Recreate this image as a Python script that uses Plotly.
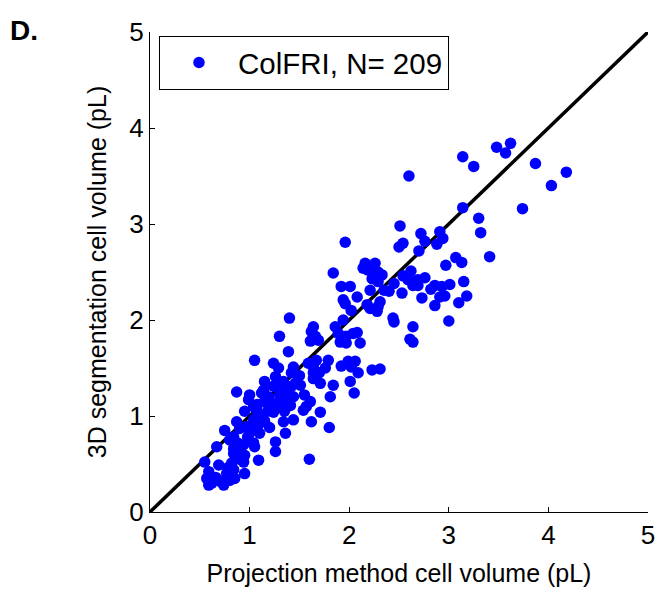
import plotly.graph_objects as go

# Projection method cell volume (pL)
proj = [3.48, 3.62, 3.57, 3.25, 3.87, 4.18, 4.03, 3.74, 3.30, 3.32, 3.41, 2.60, 3.14, 3.14,
        2.51, 2.50, 2.54, 2.72, 2.70, 2.76, 2.91, 2.94, 2.88, 3.07, 3.13, 2.97, 2.62, 2.76,
        2.54, 2.45, 2.64, 2.69, 2.53, 2.82, 2.93, 3.01, 3.15, 2.73, 2.91, 3.18, 3.10, 2.86,
        2.44, 2.45, 3.00, 2.64, 2.61, 2.64, 2.59, 2.69, 2.31, 2.35,
        1.96, 1.84, 2.14, 2.16, 2.26, 2.19, 2.24, 2.29, 2.23, 2.29, 2.33, 1.92, 2.01, 2.08,
        1.94, 1.96, 2.02, 2.18, 2.21, 2.29, 2.28, 2.21, 1.94, 1.86, 1.89, 1.97, 2.04, 2.08,
        1.91, 1.97, 2.11,
        1.40, 1.30, 1.64, 1.62, 1.66, 1.61, 1.69,
        1.39, 1.24, 1.29, 1.26, 1.44, 1.59, 1.64, 1.67, 1.64, 1.79, 1.76, 1.99, 2.06, 2.02,
        2.09, 2.01, 2.23, 2.31, 2.05, 1.46, 1.51, 1.64, 1.71, 1.84, 1.81, 1.24, 1.31, 1.37,
        1.34, 1.44, 1.41, 1.24, 1.31, 1.24, 1.57, 1.61, 1.54, 1.71, 1.34, 1.44, 1.36, 1.62,
        1.80, 1.26, 1.26, 1.60, 1.42, 1.34, 1.05, 1.15, 1.42,
        0.87, 1.00, 0.99, 1.12, 1.20, 1.26, 1.07, 1.12, 1.04, 0.87, 0.97, 1.09, 1.10, 0.75,
        0.80, 0.84, 1.05, 0.94, 0.87, 0.84, 0.67, 0.95, 0.94, 1.09, 0.55, 0.69, 0.59, 0.77,
        0.84, 0.95, 0.57, 0.59, 0.70, 0.74, 0.80, 0.85, 1.14, 1.19, 1.04, 1.15, 0.90, 1.00,
        0.82, 0.84, 0.92, 1.04,
        0.62, 0.66, 0.78, 0.90, 0.88, 0.98, 1.02, 1.15, 1.18, 1.08, 0.95, 1.30, 1.35, 1.20,
        1.50, 1.55, 1.70, 2.66, 2.40, 2.86, 2.96, 1.92]

# 3D segmentation cell volume (pL)
seg = [3.80, 3.84, 3.74, 3.60, 3.63, 3.54, 3.40, 3.16, 3.06, 2.91, 2.66, 3.50, 3.70, 3.17,
       2.98, 2.76, 2.80, 2.90, 2.72, 2.82, 2.92, 2.85, 2.79, 2.65, 2.60, 2.57, 2.51, 2.44,
       2.46, 2.38, 2.36, 2.36, 2.28, 2.32, 2.35, 2.37, 2.40, 2.23, 2.24, 2.25, 2.18, 2.15,
       2.02, 1.98, 1.99, 1.93, 1.80, 1.77, 2.42, 2.42, 2.19, 2.31,
       2.81, 2.49, 2.54, 2.59, 2.59, 2.52, 2.49, 2.50, 2.43, 2.40, 2.47, 2.35, 2.35, 2.24,
       2.21, 2.17, 2.10, 2.16, 2.12, 2.14, 2.09, 2.31, 2.00, 1.93, 1.86, 1.83, 1.86, 1.87,
       1.77, 1.76, 1.76,
       2.02, 1.83, 1.93, 1.88, 1.83, 1.78, 1.79,
       1.67, 1.55, 1.50, 1.41, 1.51, 1.55, 1.51, 1.58, 1.45, 1.58, 1.50, 1.57, 1.57, 1.51,
       1.45, 1.36, 1.48, 1.49, 1.24, 1.34, 1.32, 1.39, 1.34, 1.32, 1.20, 1.31, 1.32, 1.25,
       1.18, 1.20, 1.11, 1.13, 1.10, 1.04, 1.10, 1.15, 1.06, 1.04, 0.94, 0.96, 0.82, 0.94,
       0.88, 0.73, 0.63, 0.55, 1.45, 1.36, 1.58, 1.36, 1.31,
       1.25, 1.22, 1.17, 1.24, 1.15, 1.08, 1.06, 1.01, 0.96, 0.94, 0.89, 0.91, 0.82, 0.85,
       0.75, 0.78, 0.68, 0.70, 0.63, 0.66, 0.68, 0.59, 0.52, 0.54, 0.52, 0.49, 0.42, 0.40,
       0.44, 0.40, 0.35, 0.28, 0.32, 0.28, 0.33, 0.35, 1.27, 1.20, 1.10, 1.15, 0.87, 0.82,
       0.51, 0.61, 0.61, 0.72,
       0.30, 0.36, 0.46, 0.55, 0.72, 0.78, 0.88, 0.95, 1.05, 1.12, 1.05, 1.22, 1.05, 0.88,
       1.42, 1.22, 1.45, 2.40, 2.30, 2.36, 2.25, 1.52]

n_cells = 209
legend_label = f"ColFRI, N= {n_cells}"
identity = [0, 5]
ticks = [0, 1, 2, 3, 4, 5]

FONT = "Liberation Sans, Arial, Helvetica, sans-serif"

fig = go.Figure()
fig.add_trace(go.Scatter(
    x=identity, y=identity, mode="lines",
    line=dict(color="black", width=3.5), showlegend=False, hoverinfo="skip"))
fig.add_trace(go.Scatter(
    x=proj, y=seg, mode="markers", name=legend_label,
    marker=dict(color="#0000ff", size=11.5, line=dict(width=0))))

axis_common = dict(
    range=[0, 5], tickvals=ticks, showgrid=False, zeroline=False,
    showline=True, linecolor="black", linewidth=1, automargin=False,
    ticks="inside", ticklen=5, tickcolor="black", tickwidth=1,
    tickfont=dict(size=26, color="black", family=FONT),
)

fig.update_layout(
    width=658, height=590,
    margin=dict(l=150, r=10, t=32, b=78),
    plot_bgcolor="white", paper_bgcolor="white",
    font=dict(family=FONT, color="black"),
    xaxis=dict(**axis_common,
               title=dict(text="Projection method cell volume (pL)",
                          font=dict(size=25, family=FONT))),
    yaxis=dict(**axis_common,
               title=dict(text="3D segmentation cell volume (pL)",
                          font=dict(size=25, family=FONT))),
    legend=dict(x=0.018, y=0.992, xanchor="left", yanchor="top",
                bordercolor="black", borderwidth=1, bgcolor="white",
                font=dict(size=29.5, family=FONT), itemwidth=68),
    showlegend=True,
)

fig.add_annotation(text="<b>D.</b>", xref="paper", yref="paper",
                   x=-0.285, y=1.04, xanchor="left", yanchor="top",
                   showarrow=False, font=dict(size=28, family=FONT, color="black"))

fig.write_html(
    "out.html",
    config={"displayModeBar": False},
    post_script="document.body.style.margin='0';document.body.style.overflow='hidden';",
)
